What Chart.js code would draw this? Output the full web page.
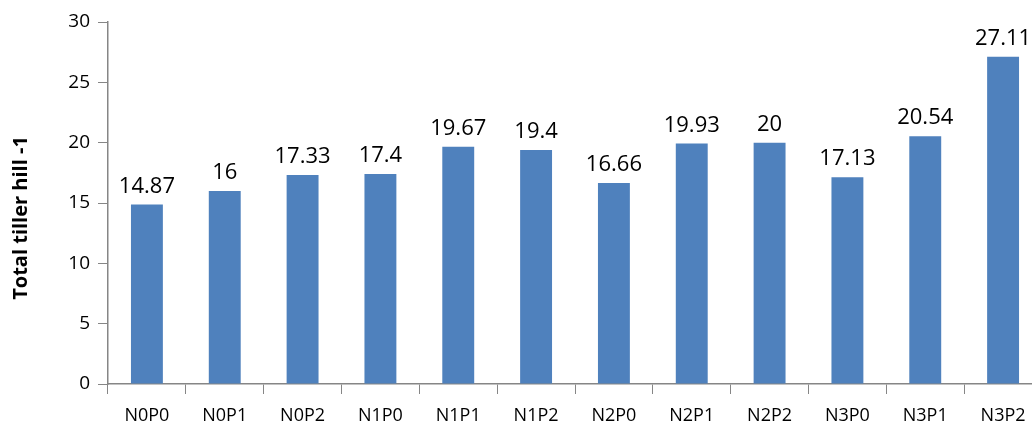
<!DOCTYPE html>
<html><head><meta charset="utf-8">
<script src="https://cdn.jsdelivr.net/npm/chart.js"></script>
<style>html,body{margin:0;padding:0;overflow:hidden;background:#fff;width:1032px;height:425px}#wrap{width:1042px;height:425px;position:relative}</style>
</head><body><div id="wrap"><canvas id="c" width="1042" height="425"></canvas></div>
<script>
const categories = ["N0P0","N0P1","N0P2","N1P0","N1P1","N1P2","N2P0","N2P1","N2P2","N3P0","N3P1","N3P2"];
const values = [14.87,16,17.33,17.4,19.67,19.4,16.66,19.93,20,17.13,20.54,27.11];
const valueLabels = ["14.87","16","17.33","17.4","19.67","19.4","16.66","19.93","20","17.13","20.54","27.11"];
const yTitle = "Total tiller hill -1";
const FONT = "'Open Sans', sans-serif";

const labelPlugin = {
  id: 'labels',
  afterDatasetsDraw(chart) {
    const ctx = chart.ctx;
    const meta = chart.getDatasetMeta(0);
    ctx.save();
    ctx.font = "22px " + FONT;
    ctx.fillStyle = "#000";
    ctx.textAlign = "center";
    ctx.textBaseline = "alphabetic";
    meta.data.forEach((bar, i) => {
      ctx.fillText(valueLabels[i], bar.x, bar.y - 12);
    });
    ctx.restore();
    ctx.save();
    ctx.font = "bold 20px " + FONT;
    ctx.fillStyle = "#000";
    ctx.translate(21, 218);
    ctx.rotate(-Math.PI / 2);
    ctx.textAlign = "center";
    ctx.textBaseline = "middle";
    ctx.fillText(yTitle, 0, 0);
    ctx.restore();
  }
};

new Chart(document.getElementById('c'), {
  type: 'bar',
  data: { labels: categories, datasets: [{ data: values, backgroundColor: '#4F81BD', barPercentage: 0.41, categoryPercentage: 1 }] },
  options: {
    responsive: false, animation: false,
    layout: { padding: { top: 22, right: 0, left: 0, bottom: 0 } },
    plugins: { legend: { display: false }, tooltip: { enabled: false } },
    scales: {
      x: {
        grid: { drawOnChartArea: false, drawTicks: true, tickLength: 10, color: '#868686', offset: true },
        border: { color: '#868686', width: 1.5 },
        ticks: { color: '#000', font: { family: FONT, size: 18 }, padding: 11, maxRotation: 0, autoSkip: false },
        afterFit(s) { s.height = 41; }
      },
      y: {
        min: 0, max: 30,
        grid: { drawOnChartArea: false, drawTicks: true, tickLength: 10, color: '#868686' },
        border: { color: '#868686', width: 1.5 },
        ticks: { stepSize: 5, color: '#000', font: { family: FONT, size: 19 }, padding: 8 },
        afterFit(s) { s.width = 108; }
      }
    }
  },
  plugins: [labelPlugin]
});
</script></body></html>
